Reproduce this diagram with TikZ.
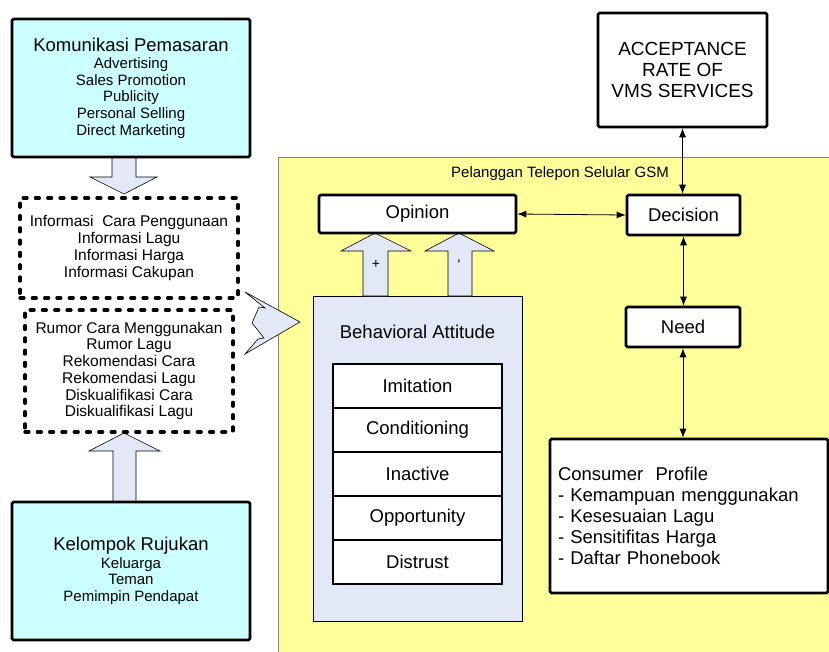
\documentclass[tikz,border=0pt]{standalone}
\usepackage{fontspec}
\setmainfont{Liberation Sans}
\newfontfamily\plainfont{Liberation Sans}
\definecolor{vmsCyan}{HTML}{CCFFFF}
\definecolor{vmsYellow}{HTML}{FFFF99}
\definecolor{vmsBlue}{HTML}{E2E8F5}
\definecolor{vmsGrey}{HTML}{7F7F7F}
\usetikzlibrary{calc,positioning,arrows.meta}

\tikzset{
  mainbox/.style={draw, line width=2.6pt, rounded corners=1.5pt, fill=white, inner sep=0pt,
    align=center, font=\fontsize{18.5}{21}\selectfont},
  srcbox/.style={mainbox, fill=vmsCyan, font=\fontsize{15}{16.6}\selectfont},
  dotbox/.style={draw, line width=3.2pt, line cap=round, dash pattern=on 4pt off 8.3pt,
    inner sep=0pt, align=center, font=\fontsize{15.5}{16.7}\selectfont},
  stackbox/.style={mainbox, rounded corners=0pt, outer sep=0pt, minimum width=169pt, minimum height=44pt},
  attbox/.style={draw, line width=0.7pt, fill=vmsBlue, inner sep=0pt},
  blockarrow/.style={draw, fill=vmsBlue, line width=0.6pt, line join=miter},
  link/.style={<->, >={Latex[length=9pt,width=7pt]}, line width=0.8pt}
}

\begin{document}
\begin{tikzpicture}[x=1pt, y=-1pt]
  \useasboundingbox (0,0) rectangle (829,651);

  % customer area
  \draw[vmsGrey, fill=vmsYellow, line width=0.8pt] (278,157) rectangle (845,670);
  \node[font=\fontsize{15}{18}\selectfont] (gsm) at (560,174) {Pelanggan Telepon Selular GSM};

  % left side
  \draw[blockarrow] (112,157) -- (112,177) -- (90,177) -- (124,194) -- (157,177) -- (136,177) -- (136,157) -- cycle;
  \draw[blockarrow] (113,502) -- (113,451) -- (89,451) -- (124,433) -- (160,451) -- (136,451) -- (136,502) -- cycle;

  \node[srcbox, minimum width=238pt, minimum height=138pt] (kom) at (131,88)
    {{\fontsize{18.5}{21}\selectfont Komunikasi Pemasaran}\\[1pt]Advertising\\Sales Promotion\\Publicity\\Personal Selling\\Direct Marketing};
  \node[dotbox, minimum width=218pt, minimum height=100pt] (info) at (129,248)
    {Informasi\ \ Cara Penggunaan\\Informasi Lagu\\Informasi Harga\\Informasi Cakupan};
  \node[dotbox, minimum width=208pt, minimum height=122pt] (rumor) at (129,371)
    {Rumor Cara Menggunakan\\Rumor Lagu\\Rekomendasi Cara\\Rekomendasi Lagu\\Diskualifikasi Cara\\Diskualifikasi Lagu};
  \node[srcbox, minimum width=238pt, minimum height=138pt] (kel) at (131,571)
    {{\fontsize{18.5}{21}\selectfont Kelompok Rujukan}\\[1pt]Keluarga\\Teman\\Pemimpin Pendapat};

  \draw[blockarrow] (245,292) -- (265,308) -- (259,307) -- (252,323) -- (264,338) -- (258,339)
    -- (245,354) -- (300,322) -- cycle;

  % attitude
  \node[attbox, minimum width=209pt, minimum height=325pt] (beh) at (417.5,458.5) {};
  \node[font=\fontsize{18.5}{21}\selectfont] (behlabel) at (417.5,332) {Behavioral Attitude};
  \node[stackbox] (imit) at (417.5,386) {Imitation};
  \node[stackbox, below=0pt of imit] (cond) {Conditioning};
  \node[stackbox, below=0pt of cond] (inact) {Inactive};
  \node[stackbox, below=0pt of inact] (oppo) {Opportunity};
  \node[stackbox, below=0pt of oppo] (distr) {Distrust};

  \draw[blockarrow] (363,296) -- (363,251) -- (341,251) -- (375,233) -- (411,251) -- (388,251) -- (388,296) -- cycle;
  \draw[blockarrow] (448,296) -- (448,251) -- (425,251) -- (459,233) -- (494,251) -- (472,251) -- (472,296) -- cycle;
  \node[font=\fontsize{14}{15}\selectfont] (plus) at (376,264) {+};
  \node[font=\fontsize{14}{15}\selectfont\plainfont] (minus) at (459,265) {'};

  \node[mainbox, minimum width=197pt, minimum height=38pt] (opinion) at (417.5,214) {Opinion};

  % decision chain
  \node[mainbox, minimum width=169pt, minimum height=114pt, font=\fontsize{19}{21}\selectfont] (acc) at (682.5,70)
    {ACCEPTANCE\\RATE OF\\VMS SERVICES};
  \node[mainbox, minimum width=113pt, minimum height=40pt] (decision) at (683.5,215) {Decision};
  \node[mainbox, minimum width=114pt, minimum height=40pt] (need) at (683,327) {Need};
  \node[mainbox, minimum width=278pt, minimum height=154pt, text width=262pt, align=left] (prof) at (689,516)
    {Consumer\ \ Profile\\- Kemampuan menggunakan\\- Kesesuaian Lagu\\- Sensitifitas Harga\\- Daftar Phonebook};

  \draw[link] (opinion.east) -- (decision.west);
  \draw[link] (acc.south) -- (acc.south |- decision.north);
  \draw[link] (decision.south) -- (decision.south |- need.north);
  \draw[link] (need.south) -- (need.south |- prof.north);
\end{tikzpicture}
\end{document}
